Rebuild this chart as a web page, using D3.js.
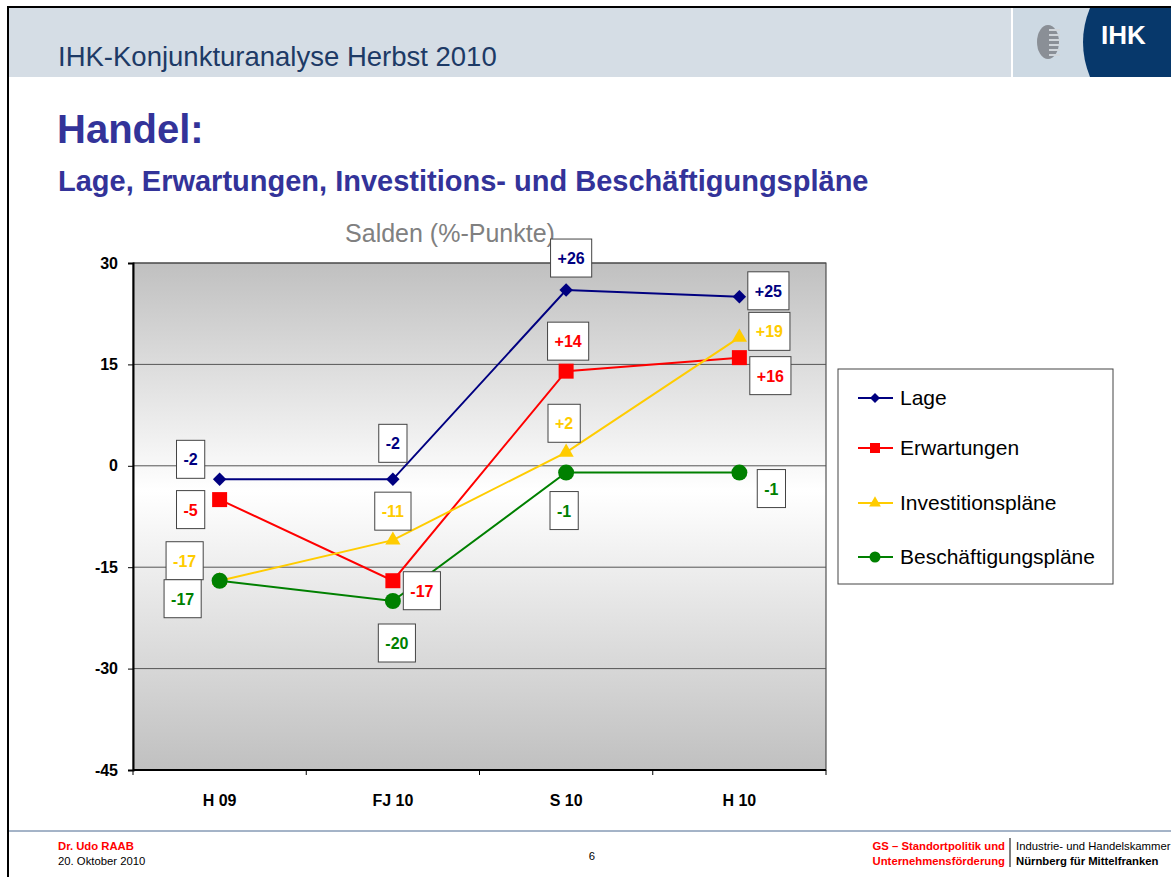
<!DOCTYPE html>
<html>
<head>
<meta charset="utf-8">
<script src="https://cdn.jsdelivr.net/npm/d3@7"></script>
<style>
  body { margin: 0; background: #fff; }
  svg { display: block; font-family: "Liberation Sans", Arial, sans-serif; }
</style>
</head>
<body>
<div id="chart"></div>
<script>
// values
const categories = ["H 09", "FJ 10", "S 10", "H 10"];
const seriesNames = ["Lage", "Erwartungen", "Investitionspläne", "Beschäftigungspläne"];
const lage = [-2, -2, 26, 25];
const erwartungen = [-5, -17, 14, 16];
const investitionen = [-17, -11, 2, 19];
const beschaeftigung = [-17, -20, -1, -1];
const yTicks = [30, 15, 0, -15, -30, -45];

// where the value boxes sit relative to their point (px)
const labelOffsets = [
  [[-29, -20], [0, -36], [5, -32], [29, -6]],
  [[-29, 10], [29, 10], [2, -30], [31, 18]],
  [[-35, -20], [0, -29], [-2, -29], [30, -6]],
  [[-37, 18], [4, 42], [-2, 38], [32, 16]]
];

const colors = ["#000080", "#ff0000", "#ffcc00", "#008000"];
const allSeries = [lage, erwartungen, investitionen, beschaeftigung];

const W = 1171, H = 877;
const svg = d3.select("#chart").append("svg")
  .attr("width", W).attr("height", H);

// ---- slide frame / header ----
svg.append("rect").attr("x", 0).attr("y", 0).attr("width", W).attr("height", H).attr("fill", "#fff");
svg.append("rect").attr("x", 9).attr("y", 8).attr("width", 1002).attr("height", 69).attr("fill", "#d5dde5");
svg.append("rect").attr("x", 1013).attr("y", 8).attr("width", 158).attr("height", 69).attr("fill", "#cdd9e3");
svg.append("path")
  .attr("d", "M1090,8 L1171,8 L1171,77 L1090,77 Q1076,42 1090,8 Z")
  .attr("fill", "#07386b");
// eagle-ish emblem
const emb = svg.append("g").attr("transform", "translate(1048,42)");
emb.append("ellipse").attr("rx", 11).attr("ry", 17).attr("fill", "#8a8f96");
[-12, -7, -2, 3, 8, 13].forEach(dy => {
  emb.append("line").attr("x1", 1).attr("x2", 12).attr("y1", dy).attr("y2", dy)
    .attr("stroke", "#d0d5da").attr("stroke-width", 2);
});
svg.append("text").attr("x", 1101).attr("y", 44)
  .attr("font-size", 26).attr("font-weight", "bold").attr("fill", "#fff").text("IHK");

svg.append("line").attr("x1", 8).attr("x2", W).attr("y1", 7).attr("y2", 7)
  .attr("stroke", "#000").attr("stroke-width", 2);
svg.append("line").attr("x1", 8).attr("x2", 8).attr("y1", 6).attr("y2", H)
  .attr("stroke", "#000").attr("stroke-width", 2);

svg.append("text").attr("x", 58).attr("y", 66)
  .attr("font-size", 27.5).attr("fill", "#1d3a66").text("IHK-Konjunkturanalyse Herbst 2010");

svg.append("text").attr("x", 57).attr("y", 143)
  .attr("font-size", 40).attr("font-weight", "bold").attr("fill", "#333399").text("Handel:");
svg.append("text").attr("x", 58).attr("y", 191)
  .attr("font-size", 29).attr("font-weight", "bold").attr("fill", "#333399")
  .text("Lage, Erwartungen, Investitions- und Beschäftigungspläne");

// ---- chart ----
const plot = {left: 133, right: 826, top: 263, bottom: 770};

const x = d3.scaleBand().domain(categories).range([plot.left, plot.right]);
const y = d3.scaleLinear().domain([-45, 30]).range([plot.bottom, plot.top]);
const cx = d => x(d) + x.bandwidth() / 2;

const defs = svg.append("defs");
const grad = defs.append("linearGradient").attr("id", "bg")
  .attr("x1", 0).attr("x2", 0).attr("y1", 0).attr("y2", 1);
grad.append("stop").attr("offset", "0%").attr("stop-color", "#c0c0c0");
grad.append("stop").attr("offset", "45%").attr("stop-color", "#ffffff");
grad.append("stop").attr("offset", "100%").attr("stop-color", "#c0c0c0");

svg.append("rect")
  .attr("x", plot.left).attr("y", plot.top)
  .attr("width", plot.right - plot.left).attr("height", plot.bottom - plot.top)
  .attr("fill", "url(#bg)").attr("stroke", "#333").attr("stroke-width", 1);

svg.append("text").attr("x", 450).attr("y", 242)
  .attr("text-anchor", "middle").attr("font-size", 25).attr("fill", "#808080")
  .text("Salden (%-Punkte)");

// gridlines
svg.append("g").selectAll("line")
  .data(yTicks.filter(t => t > -45))
  .join("line")
  .attr("x1", plot.left).attr("x2", plot.right)
  .attr("y1", d => y(d)).attr("y2", d => y(d))
  .attr("stroke", "#555").attr("stroke-width", 1);

// y axis
const yAxis = svg.append("g")
  .attr("transform", `translate(${plot.left},0)`)
  .call(d3.axisLeft(y).tickValues(yTicks).tickFormat(d => String(d)).tickSize(5).tickPadding(10));
yAxis.select(".domain").attr("stroke", "#000").attr("stroke-width", 2);
yAxis.selectAll(".tick line").attr("stroke", "#000");
yAxis.selectAll("text").attr("font-size", 16).attr("font-weight", "bold")
  .attr("font-family", "Liberation Sans, Arial, sans-serif").attr("fill", "#000");

// x axis: ticks at band edges
const xAxis = svg.append("g").attr("transform", `translate(0,${plot.bottom})`);
xAxis.append("line").attr("x1", plot.left).attr("x2", plot.right)
  .attr("stroke", "#000").attr("stroke-width", 2);
const edges = categories.map(c => x(c)).concat([plot.right]);
xAxis.selectAll(".edge").data(edges).join("line").attr("class", "edge")
  .attr("x1", d => d).attr("x2", d => d).attr("y1", 0).attr("y2", 5)
  .attr("stroke", "#000");
xAxis.selectAll(".lbl").data(categories).join("text").attr("class", "lbl")
  .attr("x", d => cx(d)).attr("y", 36)
  .attr("text-anchor", "middle").attr("font-size", 16).attr("font-weight", "bold")
  .text(d => d);

// markers
function markerPath(i, big) {
  const s = big ? [90, 225, 100, 201] : [50, 100, 60, 95];
  const types = [d3.symbolSquare, d3.symbolSquare, d3.symbolTriangle, d3.symbolCircle];
  return d3.symbol().type(types[i]).size(s[i])();
}
function markerRot(i) { return i === 0 ? " rotate(45)" : ""; }

const line = d3.line().x((d, i) => cx(categories[i])).y(d => y(d));

allSeries.forEach((vals, si) => {
  svg.append("path").datum(vals)
    .attr("fill", "none").attr("stroke", colors[si]).attr("stroke-width", 2)
    .attr("d", line);
  svg.append("g").selectAll("path").data(vals).join("path")
    .attr("d", markerPath(si, true))
    .attr("transform", (d, i) => `translate(${cx(categories[i])},${y(d)})` + markerRot(si))
    .attr("fill", colors[si]);
});

// value labels in boxes
const fmt = v => (v > 0 ? "+" : "") + v;
allSeries.forEach((vals, si) => {
  vals.forEach((v, i) => {
    const [dx, dy] = labelOffsets[si][i];
    const px = cx(categories[i]) + dx, py = y(v) + dy;
    const g = svg.append("g").attr("transform", `translate(${px},${py})`);
    const t = g.append("text").attr("text-anchor", "middle").attr("y", 6)
      .attr("font-size", 16).attr("font-weight", "bold").attr("fill", colors[si])
      .text(fmt(v));
    const w = t.node().getComputedTextLength() + 14;
    g.insert("rect", "text")
      .attr("x", -w / 2).attr("y", -19).attr("width", w).attr("height", 38)
      .attr("fill", "#fff").attr("stroke", "#444").attr("stroke-width", 1);
  });
});

// legend
const lg = svg.append("g").attr("transform", "translate(838,369)");
lg.append("rect").attr("width", 275).attr("height", 215)
  .attr("fill", "#fff").attr("stroke", "#444").attr("stroke-width", 1);
const rowY = [29, 79, 134, 188];
seriesNames.forEach((name, si) => {
  const r = lg.append("g").attr("transform", `translate(0,${rowY[si]})`);
  r.append("line").attr("x1", 20).attr("x2", 55).attr("stroke", colors[si]).attr("stroke-width", 2);
  r.append("path").attr("d", markerPath(si, false))
    .attr("transform", "translate(37,0)" + markerRot(si)).attr("fill", colors[si]);
  r.append("text").attr("x", 62).attr("y", 7).attr("font-size", 21).attr("fill", "#000").text(name);
});

// ---- footer ----
const fs = 11.3;
svg.append("line").attr("x1", 9).attr("x2", W).attr("y1", 831).attr("y2", 831)
  .attr("stroke", "#4a6890").attr("stroke-width", 1);
svg.append("text").attr("x", 58).attr("y", 850).attr("font-size", fs)
  .attr("font-weight", "bold").attr("fill", "#ff0000").text("Dr. Udo RAAB");
svg.append("text").attr("x", 58).attr("y", 865).attr("font-size", fs)
  .attr("fill", "#000").text("20. Oktober 2010");
svg.append("text").attr("x", 592).attr("y", 860).attr("font-size", fs)
  .attr("text-anchor", "middle").attr("fill", "#000").text("6");
svg.append("text").attr("x", 1005).attr("y", 850).attr("font-size", fs)
  .attr("text-anchor", "end").attr("font-weight", "bold").attr("fill", "#ff0000").text("GS – Standortpolitik und");
svg.append("text").attr("x", 1005).attr("y", 865).attr("font-size", fs)
  .attr("text-anchor", "end").attr("font-weight", "bold").attr("fill", "#ff0000").text("Unternehmensförderung");
svg.append("line").attr("x1", 1010).attr("x2", 1010).attr("y1", 838).attr("y2", 867)
  .attr("stroke", "#000").attr("stroke-width", 1);
svg.append("text").attr("x", 1016).attr("y", 850).attr("font-size", fs)
  .attr("fill", "#000").text("Industrie- und Handelskammer");
svg.append("text").attr("x", 1016).attr("y", 865).attr("font-size", fs)
  .attr("font-weight", "bold").attr("fill", "#000").text("Nürnberg für Mittelfranken");
</script>
</body>
</html>
